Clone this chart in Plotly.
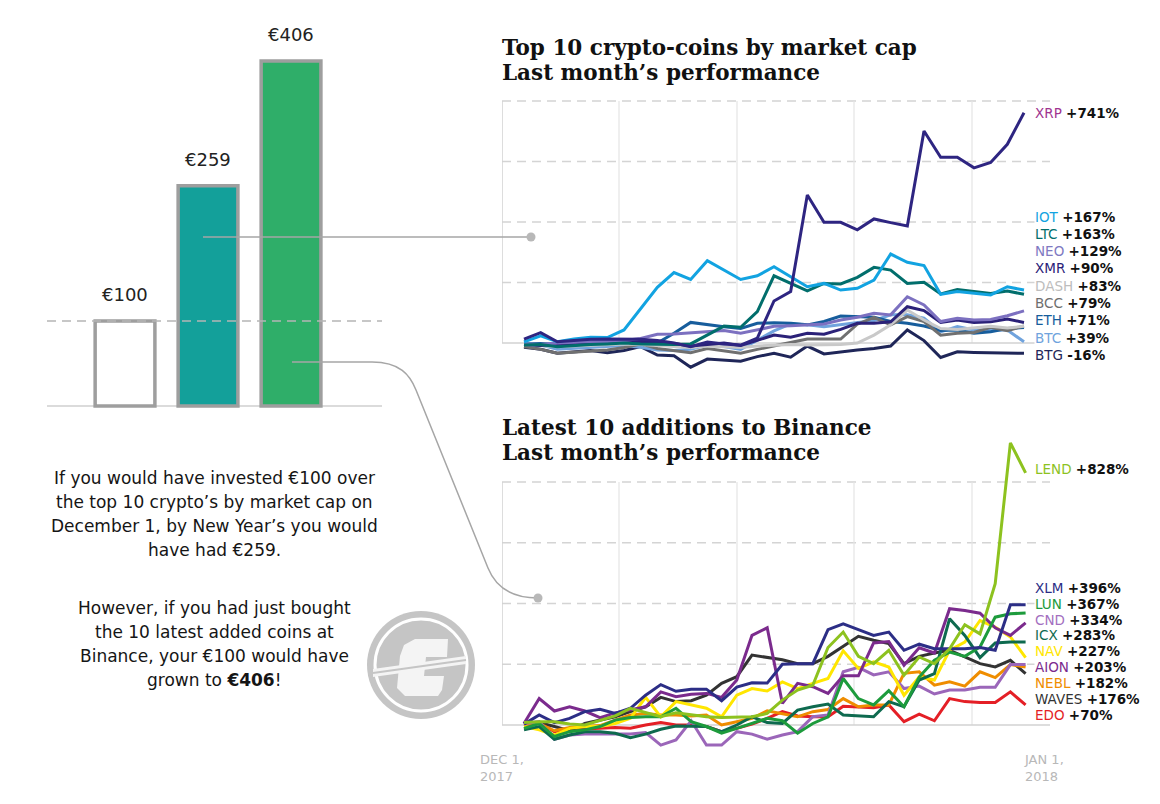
import plotly.graph_objects as go

# page body has an 8px margin: figure is placed at (8, 8)
OX, OY = 8, 8
W, H = 1152, 796
def px(x): return (x - OX) / W
def py(y): return 1 - (y - OY) / H

# ---------------- data ----------------
bar_values = [100, 259, 406]
bar_fills = ["#ffffff", "#13A09A", "#2FAE69"]

# Top 10 by market cap: % change, Dec 1 .. Dec 31 (31 daily points)
top_names = ["XRP", "IOT", "LTC", "NEO", "XMR", "DASH", "BCC", "ETH", "BTC", "BTG"]
top_labels = ["+741%", "+167%", "+163%", "+129%", "+90%", "+83%", "+79%", "+71%", "+39%", "-16%"]
top_line_colors = ["#2E2581", "#12A3E1", "#016E6C", "#7C70C0", "#2B2178", "#C9C9C9", "#707070", "#175D9C", "#70A3DD", "#1F2658"]
top_label_colors = ["#A0338F", "#12A3E1", "#016E6C", "#8079C2", "#2B2178", "#BDBDBD", "#6E6E6E", "#175D9C", "#70A3DD", "#1F2658"]
xrp = [13, 34, 4, 8, 12, 13, 13, 12, 8, 0, -12, 3, -3, -7, 16, 139, 170, 489, 399, 399, 374, 410, 398, 387, 701, 614, 614, 579, 597, 657, 761]
iot = [4, 24, 4, 13, 19, 18, 43, 115, 184, 233, 210, 272, 241, 210, 222, 252, 219, 186, 197, 175, 181, 208, 294, 267, 256, 161, 170, 164, 159, 186, 175]
ltc = [-7, -5, -12, -8, -5, -3, 0, -3, -5, -5, -3, 26, 56, 52, 104, 222, 197, 172, 197, 195, 217, 250, 241, 197, 201, 162, 177, 170, 164, 172, 161]
neo = [-3, -5, 0, 3, 5, 5, 8, 15, 29, 30, 34, 37, 41, 32, 43, 55, 57, 60, 63, 76, 85, 98, 93, 153, 126, 71, 82, 76, 78, 90, 106]
xmr = [-5, -8, -5, -2, 2, 5, 7, 5, 3, -2, -10, -5, 0, -8, 10, 26, 19, 32, 29, 45, 65, 65, 70, 120, 107, 68, 76, 68, 70, 79, 68]
dash = [-5, -8, -12, -10, -8, -5, -3, -5, -8, -10, -15, -10, -12, -15, -10, -8, -5, -7, -7, -5, 0, 26, 60, 109, 76, 48, 45, 50, 55, 50, 55]
bcc = [-12, -21, -34, -30, -25, -23, -15, -3, -18, -25, -32, -18, -25, -34, -21, -10, 2, 13, 13, 13, 62, 85, 60, 87, 71, 26, 32, 35, 52, 41, 56]
eth = [-3, -2, -5, 0, 3, 5, 5, 3, 0, 32, 68, 60, 54, 48, 65, 67, 65, 60, 71, 89, 87, 85, 71, 65, 56, 41, 43, 32, 37, 48, 51]
btc = [-3, -7, -21, -18, -15, -10, -8, -14, -23, -25, -21, -7, -12, -21, 10, 40, 63, 60, 54, 60, 67, 74, 93, 93, 82, 37, 54, 43, 43, 43, 4]
btg = [-14, -21, -34, -30, -25, -32, -25, -12, -40, -42, -80, -53, -56, -60, -45, -34, -47, -10, -36, -29, -23, -18, -10, 43, 8, -48, -29, -31, -32, -34, -34]
top_series = [xrp, iot, ltc, neo, xmr, dash, bcc, eth, btc, btg]

# Latest 10 Binance additions: % change (34 points)
bot_names = ["LEND", "XLM", "LUN", "CND", "ICX", "NAV", "AION", "NEBL", "WAVES", "EDO"]
bot_labels = ["+828%", "+396%", "+367%", "+334%", "+283%", "+227%", "+203%", "+182%", "+176%", "+70%"]
bot_line_colors = ["#8DC21F", "#2C2E86", "#1D9B3C", "#7B2B8D", "#0E6A4F", "#FFE600", "#9B66B9", "#EF8D00", "#333333", "#E41F26"]
bot_label_colors = ["#8DC21F", "#2C2E86", "#1D9B3C", "#A36FC0", "#0E6A4F", "#FFE600", "#7B2B8D", "#EF8D00", "#333333", "#E41F26"]
lend = [8, 11, 11, 3, 0, 16, 30, 55, 40, 27, 40, 33, 27, 25, 25, 27, 38, 82, 115, 131, 255, 306, 226, 202, 246, 164, 224, 202, 251, 330, 300, 465, 929, 830]
xlm = [3, 33, 8, 22, 44, 52, 38, 55, 98, 133, 111, 118, 118, 80, 125, 139, 138, 200, 202, 202, 314, 333, 314, 295, 306, 246, 266, 251, 251, 251, 255, 246, 396, 396]
lun = [-11, 5, -38, -22, -16, -5, 16, 25, 27, 27, 55, 11, -5, -27, -11, 5, 22, 14, -27, 5, 27, 153, 87, 66, 113, 60, 158, 213, 240, 226, 257, 355, 366, 369]
cnd = [5, 87, 46, 60, 46, 24, 40, 51, 60, 109, 93, 101, 104, 91, 148, 295, 320, 71, 137, 126, 104, 162, 162, 270, 275, 197, 254, 237, 383, 377, 368, 320, 295, 336]
icx = [-16, -5, -47, -33, -22, -22, -27, -42, -30, -14, -3, -3, -5, -22, 0, 27, 8, 5, 49, 60, 69, 33, 30, 27, 77, 60, 148, 169, 350, 295, 222, 270, 273, 273]
nav = [-5, -16, -33, -11, -5, -5, 5, 22, 91, 27, 77, 66, 55, 27, 98, 120, 112, 142, 120, 137, 153, 244, 186, 208, 191, 98, 158, 148, 246, 273, 344, 322, 290, 222]
aion = [5, 11, -47, -33, -30, -30, -30, -30, -25, -66, -49, 14, -66, -66, -22, -30, -47, -33, -22, 27, 33, 175, 190, 165, 175, 120, 128, 102, 115, 115, 124, 124, 199, 199]
nebl = [0, 5, -19, -8, -5, -2, 16, 33, 38, 33, 33, 30, 33, 0, 11, 22, 47, 38, 27, 44, 51, 87, 60, 66, 66, 170, 175, 131, 142, 128, 175, 156, 199, 191]
waves = [3, 8, -5, -19, 5, 16, 27, 44, 60, 91, 77, 80, 98, 137, 159, 230, 222, 215, 202, 202, 226, 259, 292, 279, 268, 202, 226, 237, 246, 224, 202, 191, 213, 169]
edo = [-3, 8, -22, -13, -13, -11, -8, -11, 0, 8, 0, 0, -5, -22, -11, 3, 22, 44, 30, 27, 27, 62, 60, 57, 66, 11, 36, 14, 87, 77, 74, 74, 109, 66]
bot_series = [lend, xlm, lun, cnd, icx, nav, aion, nebl, waves, edo]

paragraph = [
    "If you would have invested €100 over",
    "the top 10 crypto’s by market cap on",
    "December 1, by New Year’s you would",
    "have had €259.",
    "",
    "However, if you had just bought",
    "the 10 latest added coins at",
    "Binance, your €100 would have",
    "grown to <b>€406</b>!",
]

# ---------------- layout geometry ----------------
TXT_FONT = "DejaVu Sans"
SERIF = "DejaVu Serif"

# top chart: 0% at y=343px, 800% at y=101px, first day at x=524px, 16.67px/day
t_step = 500 / 30
t_ppp = (343 - 101) / 800.0
t_xr = [(502 - 524) / t_step, (1050 - 524) / t_step]
t_yr = [(343 - 372) / t_ppp, (343 - 95) / t_ppp]
# bottom chart: 0% at 725px, 800% at 482px, 15.2px/step
b_step = 15.2
b_ppp = (725 - 482) / 800.0
b_xr = [(502 - 524) / b_step, (1050 - 524) / b_step]
b_yr = [(725 - 748) / b_ppp, (725 - 425) / b_ppp]
# bars: 0 at 406px, 0.85px per euro
bar_ppe = (406 - 321) / 100.0
bar_xr = [-0.952, 3.096]
bar_yr = [(406 - 410) / bar_ppe, (406 - 20) / bar_ppe]

fig = go.Figure()

fig.add_trace(go.Bar(
    x=list(range(len(bar_values))), y=bar_values, width=0.72,
    marker=dict(color=bar_fills, line=dict(color="#9e9e9e", width=3.5)),
    xaxis="x", yaxis="y", hoverinfo="skip"))

for name, s, c in reversed(list(zip(top_names, top_series, top_line_colors))):
    fig.add_trace(go.Scatter(x=list(range(len(s))), y=s, mode="lines", name=name,
                             line=dict(color=c, width=3), xaxis="x2", yaxis="y2"))
for name, s, c in reversed(list(zip(bot_names, bot_series, bot_line_colors))):
    fig.add_trace(go.Scatter(x=list(range(len(s))), y=s, mode="lines", name=name,
                             line=dict(color=c, width=3), xaxis="x3", yaxis="y3"))

shapes = []
grid_v_px = [619, 737, 854, 972]
for (xa, ya, xr, step, x0px) in [("x2", "y2", t_xr, t_step, 524), ("x3", "y3", b_xr, b_step, 524)]:
    for g in [200, 400, 600, 800]:
        shapes.append(dict(type="line", xref=xa, yref=ya, x0=xr[0], x1=xr[1], y0=g, y1=g,
                           line=dict(color="#d4d4d4", width=1.3, dash="9px,6px"), layer="below"))
    for gp in grid_v_px:
        gx = (gp - x0px) / step
        shapes.append(dict(type="line", xref=xa, yref=ya, x0=gx, x1=gx, y0=0, y1=800,
                           line=dict(color="#e4e4e4", width=1.2), layer="below"))
    shapes.append(dict(type="line", xref=xa, yref=ya, x0=xr[0], x1=xr[0], y0=0, y1=800,
                       line=dict(color="#d2d2d2", width=1.5), layer="below"))
    shapes.append(dict(type="line", xref=xa, yref=ya, x0=xr[0], x1=xr[1], y0=0, y1=0,
                       line=dict(color="#d2d2d2", width=1.5), layer="below"))

# bar chart reference lines
shapes.append(dict(type="line", xref="paper", yref="y", x0=px(47), x1=px(382), y0=0, y1=0,
                   line=dict(color="#cfcfcf", width=1.5), layer="below"))
shapes.append(dict(type="line", xref="paper", yref="y", x0=px(47), x1=px(382), y0=100, y1=100,
                   line=dict(color="#b5b5b5", width=1.5, dash="9px,6px"), layer="above"))

# connectors
conn = "#a6a6a6"
shapes.append(dict(type="line", xref="paper", yref="paper", x0=px(203), x1=px(531), y0=py(237), y1=py(237),
                   line=dict(color=conn, width=1.5)))
path = (f"M {px(292)},{py(362)} L {px(372)},{py(362)} "
        f"C {px(400)},{py(362)} {px(410)},{py(375)} {px(416)},{py(390)} "
        f"L {px(488)},{py(568)} C {px(496)},{py(588)} {px(512)},{py(598)} {px(538)},{py(598)}")
shapes.append(dict(type="path", xref="paper", yref="paper", path=path, line=dict(color=conn, width=1.5)))
for cx, cy in [(531, 237), (538, 598)]:
    shapes.append(dict(type="circle", xref="paper", yref="paper", x0=px(cx - 4.5), x1=px(cx + 4.5),
                       y0=py(cy + 4.5), y1=py(cy - 4.5), fillcolor="#b8b8b8", line=dict(width=0)))

# logo
lcx, lcy, lr = 421, 665, 54
shapes.append(dict(type="circle", xref="paper", yref="paper", x0=px(lcx - lr), x1=px(lcx + lr),
                   y0=py(lcy + lr), y1=py(lcy - lr), fillcolor="#c5c5c5", line=dict(width=0)))
shapes.append(dict(type="circle", xref="paper", yref="paper", x0=px(lcx - 46), x1=px(lcx + 46),
                   y0=py(lcy + 46), y1=py(lcy - 46), fillcolor="rgba(0,0,0,0)", line=dict(color="white", width=3)))
cpts = [(448, 639), (415, 639), (404, 645), (400, 656), (397, 688), (405, 696), (438, 696), (442, 690),
        (444, 676), (424, 676), (426, 657), (447, 657)]
cpath = "M " + " L ".join(f"{px(a)},{py(b)}" for a, b in cpts) + " Z"
shapes.append(dict(type="path", xref="paper", yref="paper", path=cpath, fillcolor="#f4f4f4", line=dict(width=0)))
band = [(373, 669), (466, 656), (466, 664), (373, 677)]
bpath = "M " + " L ".join(f"{px(a)},{py(b)}" for a, b in band) + " Z"
shapes.append(dict(type="path", xref="paper", yref="paper", path=bpath, fillcolor="#f4f4f4", line=dict(width=0)))
shapes.append(dict(type="line", xref="paper", yref="paper", x0=px(373), x1=px(466), y0=py(673), y1=py(660),
                   line=dict(color="#c5c5c5", width=2)))

annotations = []
for i, v in enumerate(bar_values):
    annotations.append(dict(x=i, y=v, xref="x", yref="y", text=f"€{v}", showarrow=False,
                            yanchor="bottom", yshift=14, font=dict(family=TXT_FONT, size=18, color="#222")))

for i, line in enumerate(paragraph):
    if not line:
        continue
    y = 478 + 24 * i + (10 if i > 4 else 0)
    annotations.append(dict(x=px(214), y=py(y), xref="paper", yref="paper", text=line, showarrow=False,
                            xanchor="center", yanchor="middle", font=dict(family=TXT_FONT, size=17, color="#151515")))

for txt, y in [("<b>Top 10 crypto-coins by market cap</b>", 47), ("<b>Last month’s performance</b>", 72),
               ("<b>Latest 10 additions to Binance</b>", 427), ("<b>Last month’s performance</b>", 453)]:
    annotations.append(dict(x=px(500), y=py(y), xref="paper", yref="paper", text=txt, showarrow=False,
                            xanchor="left", yanchor="middle", font=dict(family=SERIF, size=21.5, color="#111")))

top_label_y = [113, 217, 234, 251, 268, 286, 303, 320, 338, 355]
bot_label_y = [469, 588, 604, 620, 635, 651, 667, 683, 699, 715]
for names, labs, cols, ys in [(top_names, top_labels, top_label_colors, top_label_y),
                              (bot_names, bot_labels, bot_label_colors, bot_label_y)]:
    for n, l, c, y in zip(names, labs, cols, ys):
        annotations.append(dict(x=px(1034), y=py(y), xref="paper", yref="paper",
                                text=f'<span style="color:{c}">{n}</span> <b>{l}</b>', showarrow=False,
                                xanchor="left", yanchor="middle", bgcolor="white", borderpad=0,
                                font=dict(family=TXT_FONT, size=13.5, color="#111")))

for txt, x in [("DEC 1,<br>2017", 478), ("JAN 1,<br>2018", 1022)]:
    annotations.append(dict(x=px(x), y=py(750), xref="paper", yref="paper", text=txt, showarrow=False,
                            xanchor="left", yanchor="top", align="left",
                            font=dict(family=TXT_FONT, size=13, color="#b8b8b8")))

ax_off = dict(visible=False, showgrid=False, zeroline=False, fixedrange=True)
fig.update_layout(
    width=W, height=H, margin=dict(l=0, r=0, t=0, b=0),
    paper_bgcolor="white", plot_bgcolor="white", showlegend=False,
    xaxis=dict(domain=[px(46), px(382)], range=bar_xr, anchor="y", **ax_off),
    yaxis=dict(domain=[py(410), py(20)], range=bar_yr, anchor="x", **ax_off),
    xaxis2=dict(domain=[px(502), px(1050)], range=t_xr, anchor="y2", **ax_off),
    yaxis2=dict(domain=[py(372), py(95)], range=t_yr, anchor="x2", **ax_off),
    xaxis3=dict(domain=[px(502), px(1050)], range=b_xr, anchor="y3", **ax_off),
    yaxis3=dict(domain=[py(748), py(425)], range=b_yr, anchor="x3", **ax_off),
    shapes=shapes, annotations=annotations,
)

fig.write_html("out.html")
